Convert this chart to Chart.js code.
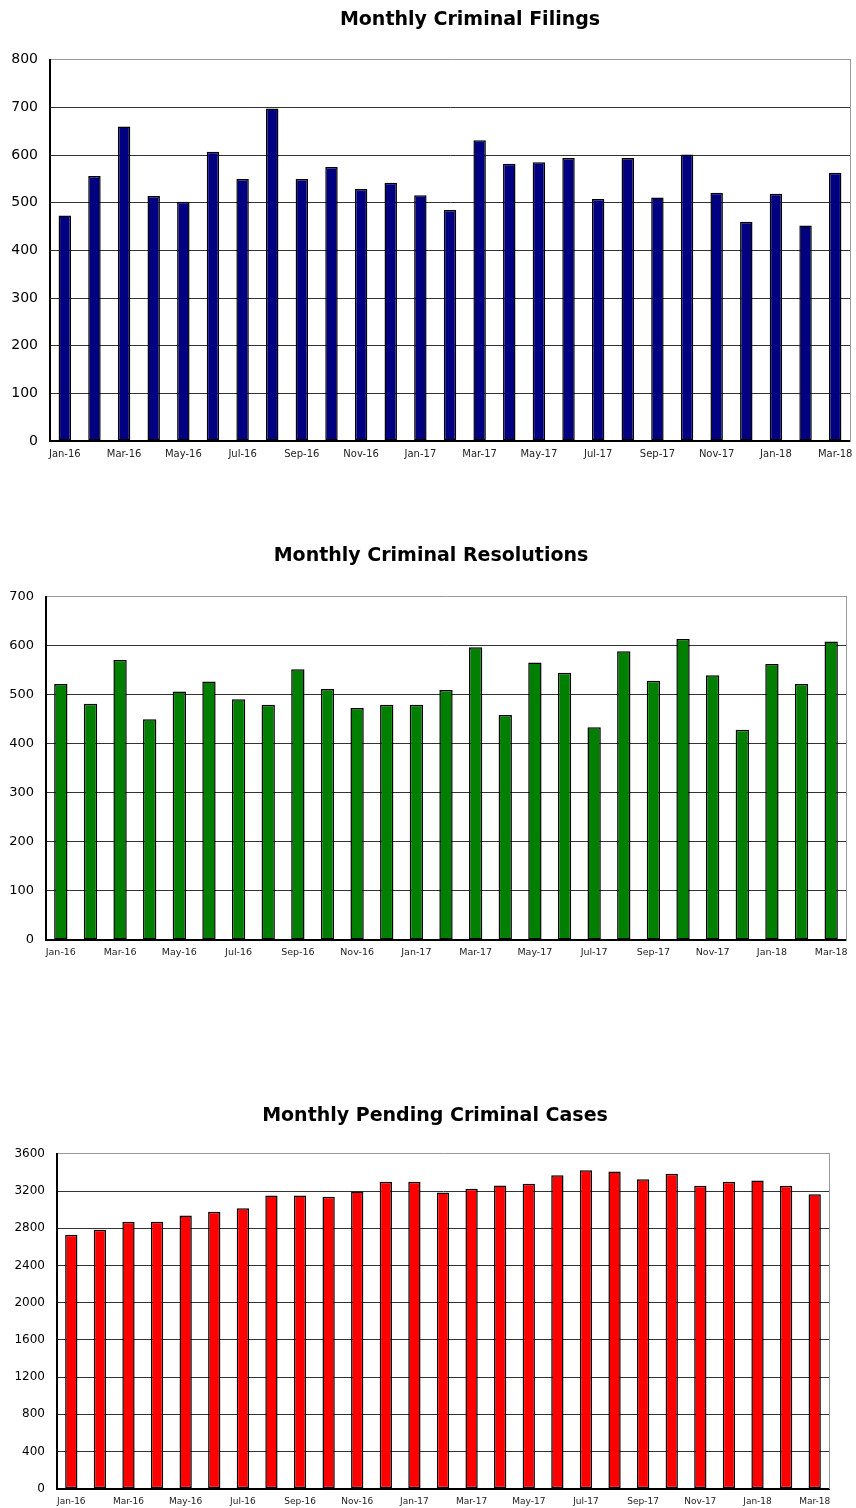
<!DOCTYPE html>
<html>
<head>
<meta charset="utf-8">
<script src="https://cdn.jsdelivr.net/npm/chart.js@4"></script>
<style>
  body { margin: 0; width: 856px; height: 1508px; overflow: hidden; background: #fff; position: relative; }
  canvas { position: absolute; left: 0; }
</style>
</head>
<body>
<canvas id="filingsChart" width="940" height="475" style="top:0px"></canvas>
<canvas id="resolutionsChart" width="862" height="430" style="top:540px"></canvas>
<canvas id="pendingChart" width="870" height="408" style="top:1100px"></canvas>
<script>
// data
var months = ["Jan-16","Feb-16","Mar-16","Apr-16","May-16","Jun-16","Jul-16","Aug-16","Sep-16","Oct-16","Nov-16","Dec-16",
              "Jan-17","Feb-17","Mar-17","Apr-17","May-17","Jun-17","Jul-17","Aug-17","Sep-17","Oct-17","Nov-17","Dec-17",
              "Jan-18","Feb-18","Mar-18"];
var filings = [473,556,660,514,502,607,550,698,550,575,529,542,516,485,631,582,585,594,508,594,511,601,521,460,519,452,563];
var resolutions = [522,482,571,450,507,527,491,480,552,512,473,480,480,510,597,459,566,545,434,589,529,614,540,429,563,522,609];
var pending = [2729,2783,2869,2869,2937,2977,3015,3152,3152,3138,3195,3299,3299,3184,3224,3259,3278,3370,3424,3410,3327,3385,3256,3299,3313,3256,3166];
var filingsTicks = [0,800,100];
var resolutionsTicks = [0,700,100];
var pendingTicks = [0,3600,400];

Chart.defaults.font.family = "'DejaVu Sans', sans-serif";
Chart.defaults.color = "#000";

// one bar chart, sizes pinned so the plot area lands where the original has it
function makeChart(id, title, values, ticks, color, s) {
    var ctx = document.getElementById(id).getContext("2d");
    return new Chart(ctx, {
        type: 'bar',
        data: {
            labels: months,
            datasets: [{
                label: title,
                data: values,
                backgroundColor: color,
                borderColor: "#000",
                borderWidth: 1.5,
                borderSkipped: false,
                categoryPercentage: 1,
                barPercentage: s.bar
            }]
        },
        options: {
            responsive: false,
            animation: false,
            devicePixelRatio: 1,
            layout: {padding: 0},
            plugins: {
                legend: {display: false},
                tooltip: {enabled: false},
                title: {
                    display: true,
                    text: title,
                    color: "#000",
                    font: {size: 19, weight: 'bold'},
                    padding: {top: s.titleTop, bottom: s.titleBottom}
                }
            },
            scales: {
                x: {
                    grid: {display: false, drawTicks: false},
                    border: {display: true, color: "#000", width: 2},
                    ticks: {
                        autoSkip: false,
                        maxRotation: 0,
                        padding: 7,
                        color: "#222",
                        font: {size: s.xFont},
                        callback: function(v, i) { return i % 2 === 0 ? months[i] : ''; }
                    },
                    afterFit: function(scale) { scale.height = s.xHeight; }
                },
                y: {
                    min: ticks[0],
                    max: ticks[1],
                    grid: {
                        drawTicks: false,
                        color: function(c) { return c.tick && c.tick.value === ticks[1] ? "#999" : "#333"; },
                        lineWidth: 1
                    },
                    border: {display: true, color: "#000", width: 2},
                    ticks: {
                        stepSize: ticks[2],
                        padding: 12,
                        font: {size: s.yFont},
                        callback: function(v) { return String(v); }
                    },
                    afterFit: function(scale) { scale.width = s.yWidth; }
                },
                y2: {
                    position: 'right',
                    min: ticks[0],
                    max: ticks[1],
                    grid: {drawOnChartArea: false, drawTicks: false},
                    border: {display: true, color: "#999", width: 1},
                    ticks: {display: false},
                    afterFit: function(scale) { scale.width = s.rightWidth; }
                }
            }
        }
    });
}

var filingsChart = makeChart("filingsChart", "Monthly Criminal Filings", filings, filingsTicks, "#000080",
    {bar: 0.42, titleTop: 9, titleBottom: 28, xHeight: 34, yWidth: 50, rightWidth: 90, xFont: 10, yFont: 14});
var resolutionsChart = makeChart("resolutionsChart", "Monthly Criminal Resolutions", resolutions, resolutionsTicks, "#007f00",
    {bar: 0.45, titleTop: 5, titleBottom: 29, xHeight: 30, yWidth: 46, rightWidth: 16, xFont: 9.5, yFont: 13});
var pendingChart = makeChart("pendingChart", "Monthly Pending Criminal Cases", pending, pendingTicks, "#ff0000",
    {bar: 0.43, titleTop: 5, titleBottom: 26, xHeight: 19, yWidth: 57, rightWidth: 41, xFont: 9, yFont: 12});
</script>
</body>
</html>
